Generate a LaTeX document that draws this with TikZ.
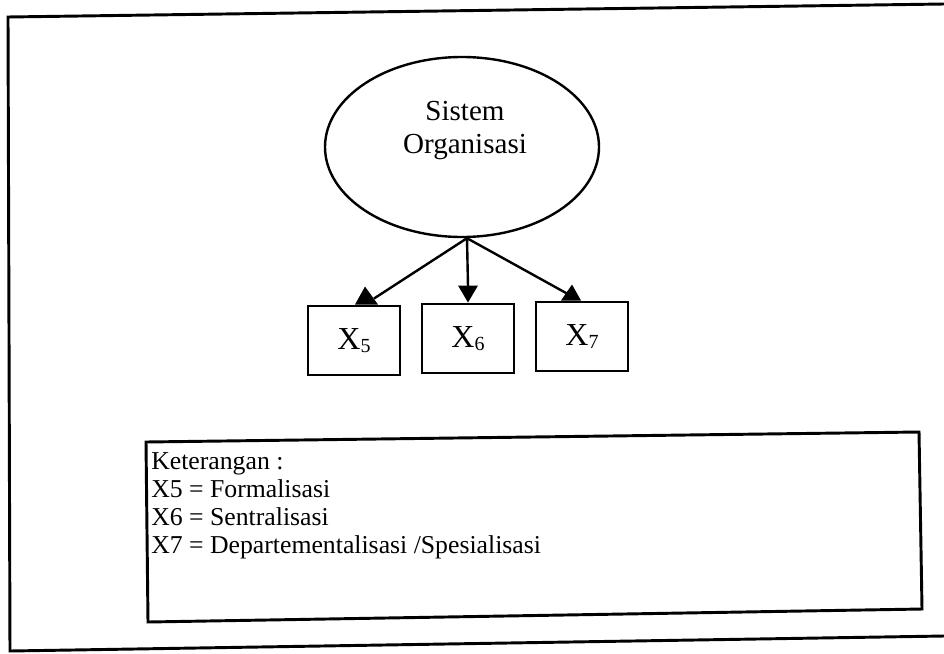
\documentclass[tikz,border=0pt]{standalone}
\usepackage{fontspec}
\setmainfont{Liberation Serif}
\usetikzlibrary{calc,shapes.geometric}
\newcommand{\subx}[1]{X{\fontsize{15}{15}\selectfont\raisebox{-2pt}{#1}}}
\begin{document}
\begin{tikzpicture}[x=0.75pt,y=-0.75pt,
  frame/.style={line width=2.2pt, line join=miter},
  latent/.style={draw, ellipse, line width=1.8pt, minimum width=205.5pt, minimum height=135pt, inner sep=0pt},
  obsbox/.style={draw, line width=2.2pt, minimum width=69pt, minimum height=51.75pt, inner sep=0pt,
                 font=\fontsize{24}{26}\selectfont},
  conn/.style={line width=1.8pt},
  head/.style={fill=black},
  legline/.style={anchor=base west, inner sep=0pt, font=\fontsize{19.3}{21}\selectfont}
]
\useasboundingbox (0,0) rectangle (944,653);
% outer frame
\draw[frame] (944,4) -- (8,17) -- (10,651) -- (944,636);
% latent variable
\node[latent] (sys) at (462,147) {};
\coordinate (hub) at ($(sys.south)+(5,0)$);
\node[align=center, inner sep=0pt, font=\fontsize{21.8}{24.75}\selectfont] (systxt) at (465,131) {Sistem\\Organisasi};
% indicators
\node[obsbox] (x5) at (354,340.5) {\subx{5}};
\node[obsbox] (x6) at (468,338.5) {\subx{6}};
\node[obsbox] (x7) at (582,336.5) {\subx{7}};
% connectors
\draw[conn] (hub) -- ($(x5.north)+(20,-6)$);
\fill[head] ($(x5.north)+(11,-18)$) -- ($(x5.north)+(1,0)$) -- ($(x5.north)+(24,0)$) -- cycle;
\draw[conn] (hub) -- ($(x6.north)+(0,-16)$);
\fill[head] (x6.north) -- ($(x6.north)+(-10,-17)$) -- ($(x6.north)+(10,-17)$) -- cycle;
\draw[conn] (hub) -- ($(x7.north)+(-15,-7)$);
\fill[head] ($(x7.north)+(-10,-16)$) -- ($(x7.north)+(-21,0)$) -- ($(x7.north)+(-1,0)$) -- cycle;
% legend box
\draw[frame] (146,442) -- (919,432) -- (922,609) -- (148,622) -- cycle;
\node[legline] (leg0) at (151,469) {Keterangan :};
\node[legline] (leg1) at (151,497) {X5 = Formalisasi};
\node[legline] (leg2) at (151,525) {X6 = Sentralisasi};
\node[legline] (leg3) at (151,553) {X7 = Departementalisasi /Spesialisasi};
\end{tikzpicture}
\end{document}
